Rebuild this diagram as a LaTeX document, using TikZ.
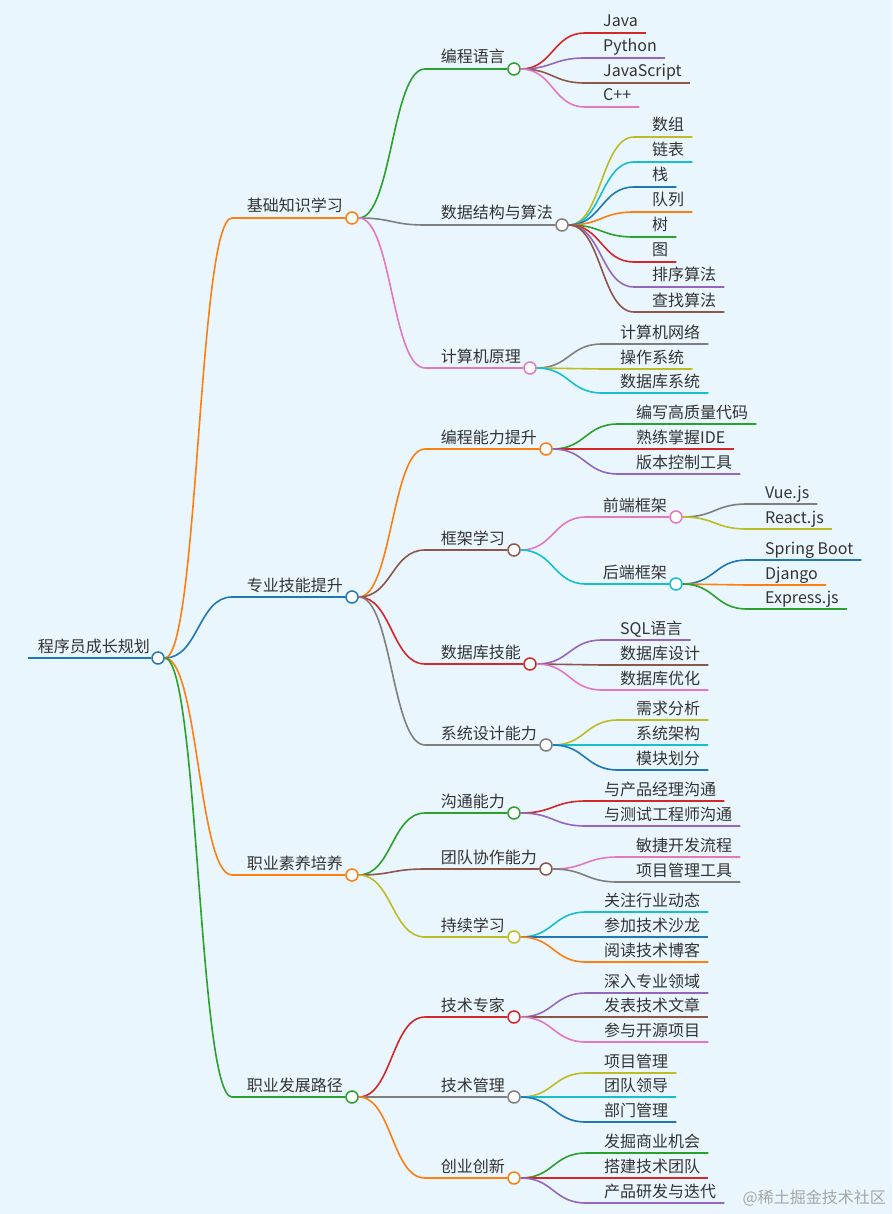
\documentclass[tikz,border=0pt]{standalone}
\usepackage{fontspec}
\setmainfont{Noto Sans CJK SC}
\usetikzlibrary{calc}
\definecolor{bg}{HTML}{EAF6FD}
\definecolor{cblue}{HTML}{1F77B4}
\definecolor{corange}{HTML}{FF7F0E}
\definecolor{cgreen}{HTML}{2CA02C}
\definecolor{cred}{HTML}{D62728}
\definecolor{cpurple}{HTML}{9467BD}
\definecolor{cbrown}{HTML}{8C564B}
\definecolor{cpink}{HTML}{E377C2}
\definecolor{cgray}{HTML}{7F7F7F}
\definecolor{colive}{HTML}{BCBD22}
\definecolor{ccyan}{HTML}{17BECF}
\definecolor{txt}{HTML}{333333}
\tikzset{
  lbl/.style={inner sep=0pt,text=txt,font=\fontsize{16}{19}\selectfont},
  dot/.style={circle,line width=1.5pt,fill=white,minimum size=12pt,inner sep=0pt},
  edge/.style={line width=1.6pt}
}
% hub: name, cx, cy, line start x, parent, color, text
\newcommand\hub[7]{%
  \node[dot,draw=#6] (#1) at (#2,#3) {};
  \node[lbl,anchor=base east] (#1-t) at (#2-9,#3-6) {#7};
  \draw[edge,#6] let \p1=(#5.east) in (\p1) .. controls ({(\x1+#4pt)/2},\y1) and ({(\x1+#4pt)/2},{-#3pt}) .. (#4,#3) -- (#1.west);
}
% leaf: name, line start x, y, parent, color, text
\newcommand\leaf[6]{%
  \node[lbl,anchor=base west] (#1) at (#2+18,#3-6) {#6};
  \path (#1.base east) ++(8,6) coordinate (#1-e);
  \draw[edge,#5] let \p1=(#4.east) in (\p1) .. controls ({(\x1+#2pt)/2},\y1) and ({(\x1+#2pt)/2},{-#3pt}) .. (#2,#3) -- (#1-e);
}
\begin{document}
\begin{tikzpicture}[x=1pt,y=-1pt]
\fill[bg] (0,0) rectangle (892,1214);
\useasboundingbox (0,0) rectangle (892,1214);
% root
\node[dot,draw=cblue] (root) at (158,658) {};
\node[lbl,anchor=base east] (root-t) at (150,652) {程序员成长规划};
\coordinate (rootstart) at (28,658);
\draw[edge,cblue] (rootstart) -- (root.west);
% level 1
\hub{a}{352}{218}{232}{root}{corange}{基础知识学习}
\hub{b}{352}{597}{232}{root}{cblue}{专业技能提升}
\hub{c}{352}{875}{232}{root}{corange}{职业素养培养}
\hub{d}{352}{1097}{232}{root}{cgreen}{职业发展路径}
% A
\hub{a1}{514}{69}{425}{a}{cgreen}{编程语言}
\hub{a2}{562}{225}{425}{a}{cgray}{数据结构与算法}
\hub{a3}{530}{368}{425}{a}{cpink}{计算机原理}
\leaf{a11}{585}{33}{a1}{cred}{Java}
\leaf{a12}{585}{58}{a1}{cpurple}{Python}
\leaf{a13}{585}{83}{a1}{cbrown}{JavaScript}
\leaf{a14}{585}{107}{a1}{cpink}{C++}
\leaf{a21}{634}{137}{a2}{colive}{数组}
\leaf{a22}{634}{162}{a2}{ccyan}{链表}
\leaf{a23}{634}{187}{a2}{cblue}{栈}
\leaf{a24}{634}{212}{a2}{corange}{队列}
\leaf{a25}{634}{237}{a2}{cgreen}{树}
\leaf{a26}{634}{262}{a2}{cred}{图}
\leaf{a27}{634}{287}{a2}{cpurple}{排序算法}
\leaf{a28}{634}{312}{a2}{cbrown}{查找算法}
\leaf{a31}{602}{344}{a3}{cgray}{计算机网络}
\leaf{a32}{602}{369}{a3}{colive}{操作系统}
\leaf{a33}{602}{393}{a3}{ccyan}{数据库系统}
% B
\hub{b1}{546}{449}{425}{b}{corange}{编程能力提升}
\hub{b2}{514}{550}{425}{b}{cbrown}{框架学习}
\hub{b3}{530}{664}{425}{b}{cred}{数据库技能}
\hub{b4}{546}{745}{425}{b}{cgray}{系统设计能力}
\leaf{b11}{618}{424}{b1}{cgreen}{编写高质量代码}
\leaf{b12}{618}{449}{b1}{cred}{熟练掌握IDE}
\leaf{b13}{618}{474}{b1}{cpurple}{版本控制工具}
\hub{b21}{676}{517}{586}{b2}{cpink}{前端框架}
\hub{b22}{676}{584}{586}{b2}{ccyan}{后端框架}
\leaf{b211}{747}{504}{b21}{cgray}{Vue.js}
\leaf{b212}{747}{529}{b21}{colive}{React.js}
\leaf{b221}{747}{560}{b22}{cblue}{Spring Boot}
\leaf{b222}{747}{585}{b22}{corange}{Django}
\leaf{b223}{747}{609}{b22}{cgreen}{Express.js}
\leaf{b31}{602}{640}{b3}{cpurple}{SQL语言}
\leaf{b32}{602}{665}{b3}{cbrown}{数据库设计}
\leaf{b33}{602}{690}{b3}{cpink}{数据库优化}
\leaf{b41}{618}{720}{b4}{colive}{需求分析}
\leaf{b42}{618}{745}{b4}{ccyan}{系统架构}
\leaf{b43}{618}{770}{b4}{cblue}{模块划分}
% C
\hub{c1}{514}{813}{425}{c}{cgreen}{沟通能力}
\hub{c2}{546}{869}{425}{c}{cbrown}{团队协作能力}
\hub{c3}{514}{937}{425}{c}{colive}{持续学习}
\leaf{c11}{586}{801}{c1}{cred}{与产品经理沟通}
\leaf{c12}{586}{826}{c1}{cpurple}{与测试工程师沟通}
\leaf{c21}{618}{857}{c2}{cpink}{敏捷开发流程}
\leaf{c22}{618}{882}{c2}{cgray}{项目管理工具}
\leaf{c31}{586}{912}{c3}{ccyan}{关注行业动态}
\leaf{c32}{586}{937}{c3}{cblue}{参加技术沙龙}
\leaf{c33}{586}{962}{c3}{corange}{阅读技术博客}
% D
\hub{d1}{514}{1017}{425}{d}{cred}{技术专家}
\hub{d2}{514}{1097}{425}{d}{cgray}{技术管理}
\hub{d3}{514}{1178}{425}{d}{corange}{创业创新}
\leaf{d11}{586}{993}{d1}{cpurple}{深入专业领域}
\leaf{d12}{586}{1017}{d1}{cbrown}{发表技术文章}
\leaf{d13}{586}{1042}{d1}{cpink}{参与开源项目}
\leaf{d21}{586}{1073}{d2}{colive}{项目管理}
\leaf{d22}{586}{1097}{d2}{ccyan}{团队领导}
\leaf{d23}{586}{1122}{d2}{cblue}{部门管理}
\leaf{d31}{586}{1153}{d3}{cgreen}{发掘商业机会}
\leaf{d32}{586}{1178}{d3}{cred}{搭建技术团队}
\leaf{d33}{586}{1203}{d3}{cpurple}{产品研发与迭代}
\node[inner sep=0pt,anchor=base east,text=gray!70,font=\fontsize{16}{19}\selectfont] (wm) at (886,1203) {@稀土掘金技术社区};
\end{tikzpicture}
\end{document}
